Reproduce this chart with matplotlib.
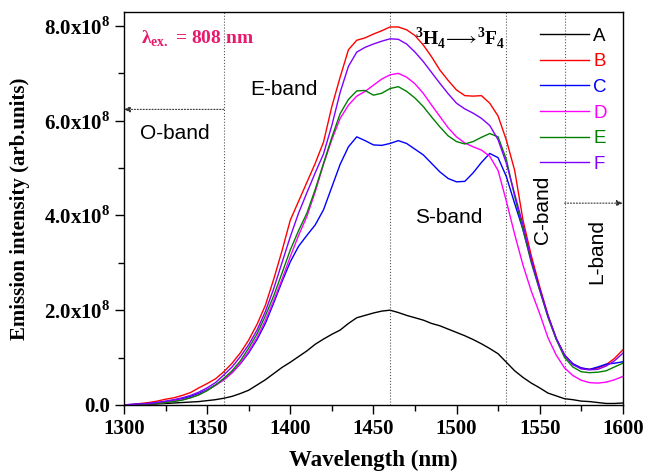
import matplotlib

matplotlib.use("Agg")
import matplotlib.pyplot as plt  # noqa: E402
from matplotlib.ticker import MultipleLocator, FuncFormatter  # noqa: E402

plt.rcParams["mathtext.fontset"] = "custom"
plt.rcParams["mathtext.rm"] = "Liberation Serif:bold"
plt.rcParams["mathtext.bf"] = "Liberation Serif:bold"

# Emission spectra, intensity in units of 1e8 (arb. units), 5 nm steps.
wavelength = list(range(1300, 1601, 5))

spec_a = [0.00, 0.00, 0.01, 0.01, 0.02, 0.03, 0.04, 0.05, 0.06, 0.07,
          0.09, 0.11, 0.14, 0.18, 0.24, 0.31, 0.42, 0.53, 0.66, 0.79,
          0.90, 1.02, 1.14, 1.28, 1.39, 1.49, 1.58, 1.72, 1.84, 1.89,
          1.94, 1.98, 2.00, 1.95, 1.89, 1.84, 1.79, 1.72, 1.67, 1.60,
          1.53, 1.46, 1.38, 1.29, 1.19, 1.08, 0.90, 0.72, 0.58, 0.46,
          0.36, 0.25, 0.19, 0.13, 0.11, 0.08, 0.07, 0.05, 0.03, 0.03,
          0.04]
spec_b = [0.00, 0.01, 0.03, 0.05, 0.08, 0.12, 0.15, 0.20, 0.26, 0.36,
          0.45, 0.55, 0.70, 0.88, 1.10, 1.37, 1.70, 2.10, 2.65, 3.25,
          3.90, 4.30, 4.70, 5.10, 5.55, 6.30, 6.92, 7.50, 7.70, 7.75,
          7.83, 7.90, 7.98, 7.98, 7.92, 7.80, 7.60, 7.35, 7.07, 6.85,
          6.65, 6.53, 6.52, 6.53, 6.37, 6.10, 5.59, 4.95, 3.90, 3.15,
          2.50, 1.90, 1.40, 1.05, 0.86, 0.78, 0.75, 0.78, 0.85, 0.98,
          1.16]
spec_c = [0.00, 0.01, 0.02, 0.03, 0.05, 0.07, 0.10, 0.13, 0.18, 0.24,
          0.32, 0.42, 0.53, 0.68, 0.87, 1.10, 1.38, 1.72, 2.15, 2.60,
          3.02, 3.35, 3.58, 3.80, 4.12, 4.60, 5.08, 5.45, 5.66, 5.58,
          5.49, 5.48, 5.52, 5.58, 5.52, 5.40, 5.28, 5.10, 4.92, 4.78,
          4.71, 4.72, 4.90, 5.12, 5.31, 5.22, 4.82, 4.25, 3.70, 3.05,
          2.45, 1.88, 1.40, 1.05, 0.87, 0.78, 0.75, 0.80, 0.86, 0.88,
          0.91]
spec_d = [0.00, 0.00, 0.01, 0.02, 0.03, 0.05, 0.08, 0.11, 0.15, 0.22,
          0.31, 0.41, 0.53, 0.68, 0.88, 1.13, 1.42, 1.78, 2.20, 2.65,
          3.13, 3.58, 3.98, 4.50, 5.08, 5.60, 6.05, 6.33, 6.52, 6.62,
          6.75, 6.88, 6.97, 7.00, 6.92, 6.78, 6.58, 6.33, 6.09, 5.85,
          5.66, 5.53, 5.45, 5.38, 5.25, 4.95, 4.30, 3.60, 2.95, 2.40,
          1.93, 1.42, 1.05, 0.78, 0.62, 0.52, 0.47, 0.46, 0.48, 0.53,
          0.60]
spec_e = [0.00, 0.00, 0.01, 0.02, 0.03, 0.05, 0.07, 0.10, 0.15, 0.21,
          0.30, 0.42, 0.56, 0.72, 0.93, 1.20, 1.50, 1.88, 2.30, 2.78,
          3.27, 3.68, 4.05, 4.55, 5.10, 5.65, 6.15, 6.45, 6.63, 6.64,
          6.54, 6.58, 6.68, 6.72, 6.62, 6.48, 6.30, 6.08, 5.87, 5.68,
          5.56, 5.51, 5.56, 5.65, 5.73, 5.66, 5.18, 4.40, 3.70, 3.00,
          2.42, 1.85, 1.38, 1.00, 0.80, 0.70, 0.68, 0.69, 0.72, 0.80,
          0.88]
spec_f = [0.00, 0.01, 0.02, 0.03, 0.05, 0.08, 0.11, 0.15, 0.20, 0.27,
          0.36, 0.47, 0.63, 0.80, 1.02, 1.27, 1.58, 1.97, 2.45, 3.00,
          3.55, 4.05, 4.48, 4.90, 5.30, 5.90, 6.60, 7.15, 7.45, 7.55,
          7.62, 7.68, 7.73, 7.72, 7.62, 7.45, 7.25, 7.02, 6.79, 6.57,
          6.37, 6.25, 6.16, 6.05, 5.90, 5.60, 5.10, 4.45, 3.80, 3.05,
          2.45, 1.88, 1.40, 1.05, 0.85, 0.76, 0.74, 0.75, 0.82, 0.93,
          1.09]

labels = ["A", "B", "C", "D", "E", "F"]
colors = ["#000000", "#ff0000", "#0000ff", "#ff00ff", "#008000", "#8000ff"]
series = [spec_a, spec_b, spec_c, spec_d, spec_e, spec_f]

band_edges = [1360, 1460, 1530, 1565]

fig = plt.figure(figsize=(6.46, 4.73), dpi=100)
ax = fig.add_axes([0.192, 0.144, 0.772, 0.831])

for x in band_edges:
    ax.axvline(x, color="#555555", linestyle=":", linewidth=0.8, zorder=1)

for y, lab, col in zip(series, labels, colors):
    ax.plot(wavelength, y, color=col, linewidth=1.0, label=lab, zorder=2)

# band arrows
arrow_kw = dict(arrowstyle="-|>", linestyle=":", color="#333333",
                lw=0.8, mutation_scale=9, shrinkA=0, shrinkB=0)
ax.annotate("", xy=(1300, 6.24), xytext=(1360, 6.24), arrowprops=arrow_kw)
ax.annotate("", xy=(1600, 4.26), xytext=(1565, 4.26), arrowprops=arrow_kw)

sans = "Liberation Sans"
ax.text(1309.5, 5.74, "O-band", fontsize=15, family=sans, va="center")
ax.text(1376, 6.65, "E-band", fontsize=15, family=sans, va="center")
ax.text(1475, 3.95, "S-band", fontsize=15, family=sans, va="center")
ax.text(1552, 4.12, "C-band", fontsize=15, family=sans, va="center",
        ha="center", rotation=90)
ax.text(1584.5, 3.23, "L-band", fontsize=15, family=sans, va="center",
        ha="center", rotation=90)

ax.text(1310, 7.72, r"λ$_{\mathrm{ex.}}$ = 808 nm", fontsize=14,
        family="Liberation Serif", weight="bold", color="#e8186c",
        va="center")
ax.text(1502, 7.75, r"$^{3}$H$_{4}$$\!\longrightarrow\!$$^{3}$F$_{4}$",
        fontsize=14, family="Liberation Serif", weight="bold",
        va="center", ha="center")

leg = ax.legend(loc="upper right", frameon=False,
                handlelength=2.6, labelspacing=0.45, handletextpad=0.25,
                borderaxespad=0.45, prop={"family": sans, "size": 13.5})
for txt, col in zip(leg.get_texts(), colors):
    txt.set_color(col)

ax.set_xlim(1300, 1600)
ax.set_ylim(0, 8.3)
ax.xaxis.set_major_locator(MultipleLocator(50))
ax.xaxis.set_minor_locator(MultipleLocator(25))
ax.yaxis.set_major_locator(MultipleLocator(2))
ax.yaxis.set_minor_locator(MultipleLocator(1))


def ylab(v, pos):
    if v == 0:
        return "0.0"
    return "%.1fx10$^{8}$" % v


ax.yaxis.set_major_formatter(FuncFormatter(ylab))
ax.tick_params(which="both", direction="out", top=False, right=False)
ax.tick_params(which="major", length=6.5, width=1.0)
ax.tick_params(which="minor", length=4, width=1.0)
for lab in ax.get_xticklabels() + ax.get_yticklabels():
    lab.set_family("Liberation Serif")
    lab.set_weight("bold")
    lab.set_fontsize(15)
for sp in ax.spines.values():
    sp.set_linewidth(1.0)

ax.set_xlabel("Wavelength (nm)", family="Liberation Serif", weight="bold",
              fontsize=16.5, labelpad=8)
ax.set_ylabel("Emission intensity (arb.units)", family="Liberation Serif",
              weight="bold", fontsize=15, labelpad=10)

fig.savefig("out.png", dpi=100)
